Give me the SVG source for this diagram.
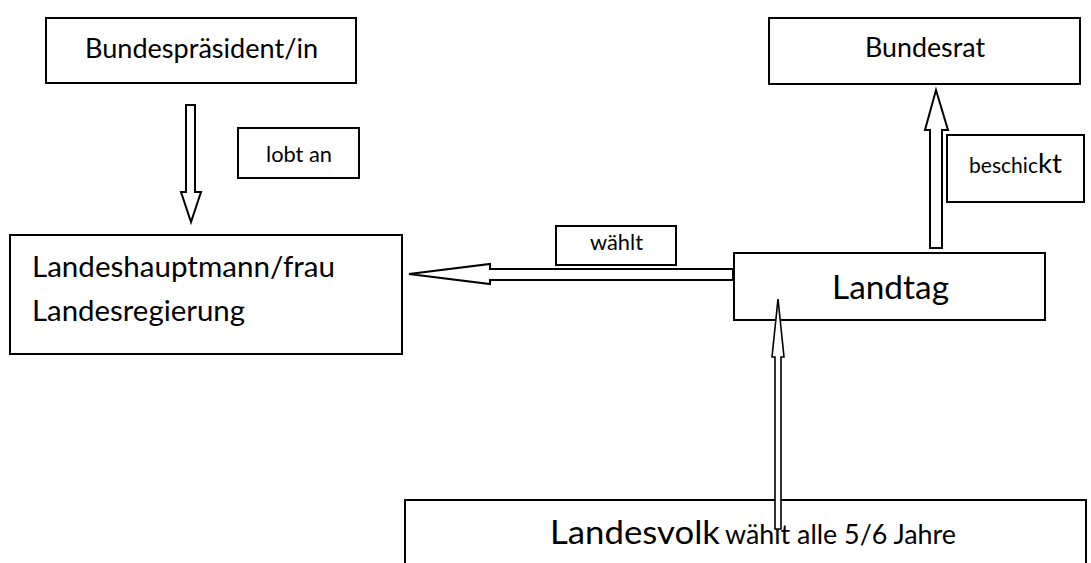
<svg xmlns="http://www.w3.org/2000/svg" width="1091" height="563" viewBox="0 0 1091 563">
<style>
.box{fill:#fff;stroke:#000;stroke-width:2}
.arr{fill:#fff;stroke:#000;stroke-width:2;stroke-linejoin:miter}
.thin{fill:#fff;stroke:#000;stroke-width:1.6}
text{font-family:Lato,"Open Sans",sans-serif;fill:#000}
.l{font-size:26px}
.xl{font-size:28.5px}
.xxl{font-size:33px}
.s{font-size:21px}
</style>
<rect width="1091" height="563" fill="#fff"/>
<g id="bundespraesident">
<rect class="box" x="46" y="18" width="310" height="65"/>
<text class="l" x="85" y="58" textLength="233" lengthAdjust="spacingAndGlyphs">Bundespräsident/in</text>
</g>
<g id="lobt-an">
<rect class="box" x="238" y="128" width="121" height="50"/>
<text class="s" x="266" y="162" textLength="66" lengthAdjust="spacingAndGlyphs">lobt an</text>
</g>
<g id="landeshauptmann">
<rect class="box" x="10" y="235" width="392" height="119"/>
<text class="xl" x="32" y="277" textLength="303" lengthAdjust="spacingAndGlyphs">Landeshauptmann/frau</text>
<text class="xl" x="32" y="321" textLength="213" lengthAdjust="spacingAndGlyphs">Landesregierung</text>
</g>
<g id="waehlt">
<rect class="box" x="556" y="226" width="120" height="39"/>
<text class="s" x="590" y="250" textLength="53" lengthAdjust="spacingAndGlyphs">wählt</text>
</g>
<g id="landtag">
<rect class="box" x="734" y="253" width="311" height="67"/>
<text class="xxl" x="832" y="299" textLength="117" lengthAdjust="spacingAndGlyphs">Landtag</text>
</g>
<g id="bundesrat">
<rect class="box" x="769" y="18" width="311" height="66"/>
<text class="l" x="865" y="57" textLength="120" lengthAdjust="spacingAndGlyphs">Bundesrat</text>
</g>
<g id="beschickt">
<rect class="box" x="947" y="135" width="137" height="67"/>
<text x="969" y="173"><tspan class="s" textLength="69" lengthAdjust="spacingAndGlyphs">beschic</tspan><tspan class="l" textLength="24" lengthAdjust="spacingAndGlyphs">kt</tspan></text>
</g>
<g id="landesvolk">
<rect class="box" x="405" y="500" width="681" height="80"/>
<text x="550" y="544"><tspan class="xxl" textLength="170" lengthAdjust="spacingAndGlyphs">Landesvolk</tspan><tspan class="l" x="725" textLength="231" lengthAdjust="spacingAndGlyphs">wählt alle 5/6 Jahre</tspan></text>
</g>
<g id="connectors">
<polygon class="arr" points="186,105 195,105 195,192 201,192 191,222 181,192 186,192"/>
<polygon class="arr" points="733,269 490,269 490,264 409,274 490,284 490,280 733,280"/>
<polygon class="arr" points="930,248 930,130 925,130 936,90 948,130 942,130 942,248"/>
<polygon class="thin" points="775,529 775,357 772,357 778,299 784,357 781,357 781,529"/>
</g>
</svg>
